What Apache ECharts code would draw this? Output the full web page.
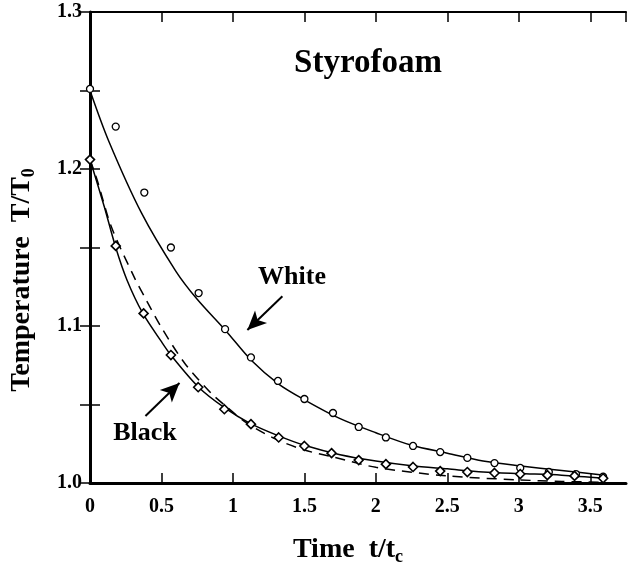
<!DOCTYPE html>
<html>
<head>
<meta charset="utf-8">
<script src="https://cdn.jsdelivr.net/npm/echarts@6/dist/echarts.min.js"></script>
<style>
  html, body { margin: 0; padding: 0; background: #fff; }
  #chart { width: 628px; height: 563px; }
</style>
</head>
<body>
<div id="chart"></div>
<script>
// measured points (white surface, open circles)
const whiteTime = [0, 0.18, 0.38, 0.566, 0.76, 0.945, 1.126, 1.315, 1.50, 1.70, 1.88, 2.07, 2.26, 2.45, 2.64, 2.83, 3.01, 3.21, 3.40, 3.59]
const whiteTemp = [1.251, 1.227, 1.185, 1.150, 1.121, 1.098, 1.080, 1.065, 1.0535, 1.0446, 1.0357, 1.029, 1.0236, 1.0197, 1.016, 1.0127, 1.0096, 1.007, 1.0057, 1.004]

// measured points (black surface, diamonds)
const blackTime = [0, 0.18, 0.375, 0.566, 0.757, 0.94, 1.126, 1.32, 1.50, 1.69, 1.88, 2.07, 2.26, 2.45, 2.64, 2.83, 3.01, 3.20, 3.39, 3.59]
const blackTemp = [1.206, 1.151, 1.108, 1.0815, 1.061, 1.047, 1.0375, 1.029, 1.0236, 1.019, 1.0146, 1.012, 1.0102, 1.0076, 1.007, 1.0064, 1.0057, 1.005, 1.0045, 1.003]

// solid fit curves
const whiteFitTime = [0, 0.13, 0.36, 0.6, 0.75, 0.95, 1.13, 1.32, 1.5, 1.75, 2.0, 2.25, 2.5, 2.75, 3.0, 3.3, 3.6]
const whiteFitTemp = [1.250, 1.218, 1.172, 1.135, 1.117, 1.097, 1.078, 1.063, 1.053, 1.041, 1.032, 1.024, 1.019, 1.014, 1.011, 1.008, 1.005]
const blackFitTime = [0, 0.1, 0.18, 0.26, 0.37, 0.5, 0.57, 0.76, 0.94, 1.12, 1.32, 1.5, 1.75, 2.0, 2.25, 2.5, 2.75, 3.0, 3.3, 3.6]
const blackFitTemp = [1.206, 1.176, 1.150, 1.129, 1.108, 1.090, 1.081, 1.061, 1.048, 1.038, 1.030, 1.024, 1.018, 1.014, 1.011, 1.009, 1.007, 1.006, 1.005, 1.003]

// dashed curve
const dashTime = [0, 0.05, 0.15, 0.31, 0.385, 0.5, 0.665, 0.85, 0.95, 1.1, 1.3, 1.5, 1.7, 2.0, 2.5, 3.0, 3.3, 3.6]
const dashTemp = [1.206, 1.193, 1.163, 1.131, 1.118, 1.099, 1.076, 1.057, 1.049, 1.038, 1.028, 1.021, 1.0166, 1.010, 1.0045, 1.002, 1.001, 1.0005]

// arrows: [tail, head] in data units
const whiteArrow = [[1.346, 1.119], [1.101, 1.0975]]
const blackArrow = [[0.388, 1.0427], [0.626, 1.0637]]

const FONT = '"Liberation Serif", "Times New Roman", serif'
const zip = (xs, ys) => xs.map((x, i) => [x, ys[i]])

const chart = echarts.init(document.getElementById('chart'), null, { renderer: 'canvas' })

const tickStyle = { show: true, inside: true, length: 10, lineStyle: { color: '#000', width: 1.5 } }

const arrowLine = a => [
  { coord: a[0], symbol: 'none' },
  { coord: a[1], symbol: 'arrow', symbolSize: [13, 19] }
]

const option = {
  animation: false,
  backgroundColor: '#fff',
  grid: { left: 90, top: 12, right: 2, bottom: 80 },
  xAxis: [
    {
      type: 'value', position: 'bottom', min: 0, max: 3.75, interval: 0.5,
      axisLine: { lineStyle: { color: '#000', width: 3 } },
      axisTick: tickStyle,
      splitLine: { show: false },
      axisLabel: {
        color: '#000', fontFamily: FONT, fontWeight: 'bold', fontSize: 20, margin: 14,
        showMaxLabel: false
      }
    },
    {
      type: 'value', position: 'top', min: 0, max: 3.75, interval: 0.5,
      axisLine: { lineStyle: { color: '#000', width: 2 } },
      axisTick: tickStyle,
      splitLine: { show: false },
      axisLabel: { show: false }
    }
  ],
  yAxis: [
    {
      type: 'value', position: 'left', min: 1.0, max: 1.3, interval: 0.05,
      axisLine: { show: true, lineStyle: { color: '#000', width: 3 } },
      axisTick: tickStyle,
      splitLine: { show: false },
      axisLabel: {
        color: '#000', fontFamily: FONT, fontWeight: 'bold', fontSize: 20, margin: 8,
        formatter: v => (Math.round(v * 100) % 10 === 0 ? v.toFixed(1) : '')
      }
    },
    {
      type: 'value', position: 'right', min: 1.0, max: 1.3, interval: 0.05,
      axisLine: { show: false },
      axisTick: tickStyle,
      splitLine: { show: false },
      axisLabel: { show: false }
    }
  ],
  series: [
    {
      type: 'line', data: zip(whiteFitTime, whiteFitTemp), smooth: 0.3,
      showSymbol: false, lineStyle: { color: '#000', width: 1.5 }, z: 2,
      markLine: {
        silent: true, symbol: ['none', 'arrow'], symbolSize: 14,
        label: { show: false },
        lineStyle: { color: '#000', width: 2, type: 'solid' },
        data: [arrowLine(whiteArrow), arrowLine(blackArrow)]
      }
    },
    {
      type: 'line', data: zip(blackFitTime, blackFitTemp), smooth: 0.3,
      showSymbol: false, lineStyle: { color: '#000', width: 1.5 }, z: 2
    },
    {
      type: 'line', data: zip(dashTime, dashTemp), smooth: 0.3,
      showSymbol: false, lineStyle: { color: '#000', width: 1.5, type: [10, 7] }, z: 2
    },
    {
      type: 'scatter', data: zip(whiteTime, whiteTemp), symbol: 'circle', symbolSize: 7,
      itemStyle: { color: '#fff', borderColor: '#000', borderWidth: 1.3, opacity: 1 }, z: 3
    },
    {
      type: 'scatter', data: zip(blackTime, blackTemp),
      symbol: 'path://M0,-1L1,0L0,1L-1,0Z', symbolSize: 9,
      itemStyle: { color: '#fff', borderColor: '#000', borderWidth: 1.6, opacity: 1 }, z: 3
    }
  ],
  graphic: [
    {
      type: 'text', x: 368, y: 63,
      style: { text: 'Styrofoam', font: 'bold 33px ' + FONT, fill: '#000', align: 'center', verticalAlign: 'middle' }
    },
    {
      type: 'text', x: 292, y: 277,
      style: { text: 'White', font: 'bold 26px ' + FONT, fill: '#000', align: 'center', verticalAlign: 'middle' }
    },
    {
      type: 'text', x: 145, y: 433,
      style: { text: 'Black', font: 'bold 26px ' + FONT, fill: '#000', align: 'center', verticalAlign: 'middle' }
    },
    {
      type: 'text', x: 348, y: 550,
      style: {
        text: '{a|Time  t/t}{s|c}', align: 'center', verticalAlign: 'middle',
        rich: {
          a: { font: 'bold 28px ' + FONT, fill: '#000' },
          s: { font: 'bold 18px ' + FONT, fill: '#000', padding: [14, 0, 0, 0] }
        }
      }
    },
    {
      type: 'text', x: 22, y: 280, rotation: Math.PI / 2,
      style: {
        text: '{a|Temperature  T/T}{s|0}', align: 'center', verticalAlign: 'middle',
        rich: {
          a: { font: 'bold 28px ' + FONT, fill: '#000' },
          s: { font: 'bold 18px ' + FONT, fill: '#000', padding: [14, 0, 0, 0] }
        }
      }
    }
  ]
}

chart.setOption(option)
</script>
</body>
</html>
